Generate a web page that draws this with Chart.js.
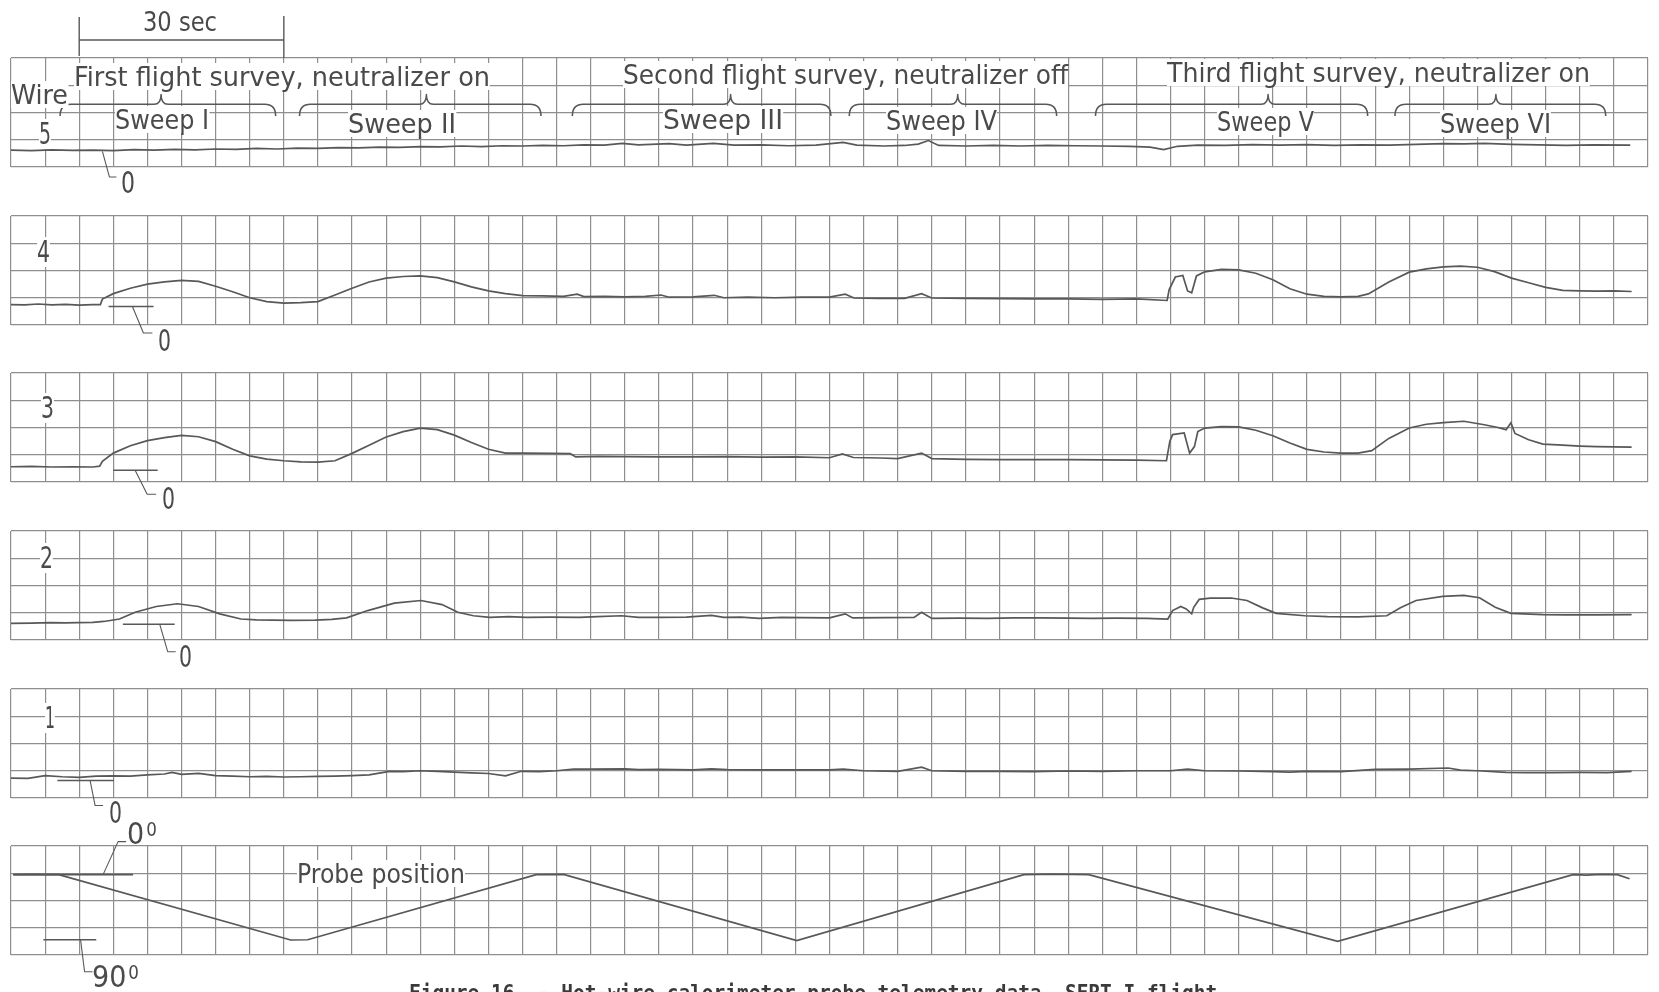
<!DOCTYPE html>
<html>
<head>
<meta charset="utf-8">
<title>Hot-wire calorimeter probe telemetry data, SERT I flight</title>
<script src="https://cdn.jsdelivr.net/npm/chart.js@4.4.1/dist/chart.umd.min.js"></script>
<style>
  html, body { margin: 0; padding: 0; background: #fff; width: 1659px; height: 992px; overflow: hidden; }
  body { position: relative; }
  .panel { position: absolute; left: 0; width: 1659px; }
  .panel canvas { display: block; }
  .lbl {
    position: absolute; white-space: nowrap; line-height: 1; color: #4a4a4a;
    font-family: "Liberation Sans Narrow", "DejaVu Sans Condensed", "DejaVu Sans", sans-serif;
    transform-origin: 0 50%; z-index: 5;
  }
  .lbl.bg { background: #fff; }
  .lbl .sup { font-size: 0.62em; position: relative; top: -0.45em; margin-left: 2px; }
  .caption { font-family: "DejaVu Sans Mono", monospace; font-weight: bold; color: #3a3a3a; }
</style>
</head>
<body>
<script>
// ---- recorded traces: [time in seconds, chart divisions above the bottom grid line] ----
const wire5 = [[0,0.62],[3,0.60],[6,0.63],[9,0.61],[12,0.62],[15,0.60],[18,0.64],[21,0.62],[24,0.65],[27,0.63],
  [30,0.66],[33,0.65],[36,0.68],[39,0.66],[42,0.69],[45,0.68],[48,0.71],[51,0.70],[54,0.73],[57,0.72],
  [60,0.75],[63,0.74],[66,0.77],[69,0.75],[72,0.78],[75,0.77],[78,0.79],[81,0.78],[84,0.81],[87,0.80],
  [89.6,0.87],[92,0.81],[96.5,0.86],[99,0.80],[103,0.87],[106,0.80],[110,0.81],[114,0.78],[118,0.80],[122,0.90],
  [124,0.80],[128,0.77],[131,0.79],[133,0.84],[134.5,0.97],[136,0.79],[140,0.77],[144,0.79],[148,0.77],[152,0.79],
  [156,0.78],[160,0.77],[164,0.76],[167,0.73],[169,0.64],[171,0.76],[174,0.80],[178,0.79],[182,0.82],[186,0.80],
  [190,0.82],[194,0.79],[198,0.81],[202,0.80],[206,0.83],[210,0.86],[213,0.85],[216,0.87],[220,0.83],[224,0.81],
  [228,0.79],[232,0.81],[237.4,0.80]];

const wire4 = [[0,0.75],[2,0.74],[4,0.77],[6,0.74],[8,0.76],[10,0.73],[12,0.75],[13.1,0.75],[13.4,0.95],[15,1.15],
  [17.5,1.35],[20,1.5],[22.5,1.58],[25,1.64],[27.5,1.6],[30,1.42],[32.5,1.22],[35,1.0],[37.5,0.86],[40,0.8],
  [42.5,0.82],[45,0.86],[47.5,1.1],[50,1.35],[52.5,1.58],[55,1.72],[57.5,1.78],[60,1.8],[62.5,1.74],[65,1.58],
  [67.5,1.4],[70,1.25],[72.5,1.15],[75,1.08],[78,1.07],[81,1.05],[83,1.13],[84,1.04],[87,1.05],[90,1.03],
  [93,1.05],[95.3,1.1],[96.5,1.02],[100,1.03],[103.1,1.09],[104.5,1.0],[108,1.02],[112,1.0],[116,1.02],[120,1.02],
  [122.3,1.13],[123.6,0.99],[127,0.98],[131,0.98],[133.5,1.15],[135,0.99],[140,0.98],[145,0.97],[150,0.96],[155,0.96],
  [160,0.94],[165,0.96],[169.5,0.9],[169.8,1.3],[170.7,1.76],[171.8,1.82],[172.5,1.25],[173.1,1.18],[173.8,1.8],[175,1.95],
  [177.5,2.04],[180,2.02],[182.5,1.9],[185,1.66],[187.5,1.33],[190,1.13],[192.5,1.05],[195,1.03],[197.5,1.05],[199,1.14],
  [202,1.58],[205,1.94],[207.5,2.06],[210,2.13],[212.5,2.16],[215,2.12],[217.5,1.96],[220,1.72],[222.5,1.55],[225,1.38],
  [227.5,1.27],[230,1.25],[232.5,1.24],[235,1.25],[237.6,1.23]];

const wire3 = [[0,0.56],[3,0.57],[6,0.55],[9,0.56],[12,0.55],[13,0.58],[13.4,0.76],[15,1.06],[17.5,1.33],[20,1.52],
  [22.5,1.63],[25,1.71],[27.5,1.66],[30,1.48],[32.5,1.2],[35,0.96],[37.5,0.84],[40,0.78],[42.5,0.74],[45,0.73],
  [47.5,0.78],[50,1.05],[52.5,1.35],[55,1.65],[57.5,1.85],[60,1.98],[62.5,1.92],[65,1.72],[67.5,1.45],[70,1.2],
  [72.5,1.06],[75,1.06],[79,1.05],[82,1.04],[82.8,0.92],[86,0.94],[90,0.93],[95,0.92],[100,0.92],[105,0.93],
  [110,0.91],[115,0.92],[120,0.89],[121.9,1.03],[123.5,0.9],[127.5,0.88],[130,0.86],[133.5,1.06],[135,0.86],[140,0.83],
  [145,0.82],[150,0.82],[155,0.82],[160,0.81],[165,0.8],[169.4,0.78],[169.9,1.5],[170.3,1.74],[172,1.8],[172.8,1.06],
  [173.5,1.3],[174,1.85],[175,1.98],[177.5,2.03],[180,2.02],[182.5,1.9],[185,1.7],[187.5,1.43],[190,1.2],[192.5,1.1],
  [195,1.06],[197.5,1.06],[199.5,1.15],[202,1.6],[205,1.98],[207.5,2.12],[210,2.18],[213,2.23],[216,2.1],[218,2.0],
  [219.2,1.92],[219.9,2.17],[220.5,1.78],[222.5,1.55],[224.6,1.39],[227.5,1.35],[230,1.32],[232.5,1.3],[235,1.29],[237.6,1.28]];

const wire2 = [[0,0.61],[3,0.62],[5.8,0.64],[8,0.63],[9.7,0.64],[12,0.65],[13.6,0.68],[15.9,0.77],[18.2,1.02],[21.3,1.23],
  [24.4,1.33],[27.5,1.23],[30.6,0.96],[33.7,0.77],[36,0.74],[38.4,0.73],[41,0.72],[44.6,0.73],[47,0.76],[49.2,0.81],
  [52.3,1.08],[56.2,1.35],[60.1,1.45],[63.2,1.3],[65.5,1.02],[67.8,0.89],[70.2,0.83],[73,0.86],[75.6,0.83],[79,0.84],
  [83.3,0.83],[86,0.86],[89.5,0.89],[92,0.83],[95,0.83],[99,0.84],[102.7,0.9],[104.5,0.83],[107,0.84],[109.7,0.79],
  [113,0.83],[116,0.82],[120,0.81],[122.3,0.96],[123.4,0.81],[128,0.82],[132.4,0.83],[133.5,1.02],[135,0.79],[139,0.8],
  [143.2,0.79],[147,0.81],[151,0.81],[155,0.8],[158.7,0.79],[162,0.8],[166.5,0.79],[169.6,0.77],[170.3,1.08],[171.5,1.23],
  [172.3,1.14],[173.1,0.96],[173.4,1.2],[174.2,1.49],[175.8,1.54],[178.9,1.54],[181.2,1.45],[183.5,1.18],[185.5,0.98],[189.7,0.89],
  [193,0.86],[197.5,0.85],[201.7,0.89],[203.7,1.18],[206,1.45],[209.9,1.6],[213,1.64],[215.3,1.55],[217.6,1.2],[219.9,0.98],
  [224.6,0.93],[228,0.92],[232.4,0.92],[237.6,0.93]];

const wire1 = [[0,0.73],[2.5,0.72],[5,0.82],[7.5,0.78],[10,0.76],[12.5,0.8],[15,0.81],[17.5,0.8],[20,0.85],[22.5,0.88],
  [23.6,0.94],[25,0.87],[27.5,0.9],[30,0.82],[32.5,0.8],[35,0.78],[37.5,0.79],[40,0.77],[42.5,0.78],[45,0.79],
  [47.5,0.8],[50,0.82],[52.5,0.85],[55.5,0.98],[57.5,0.97],[60,1.0],[62.5,0.98],[65,0.95],[67.5,0.92],[70,0.9],
  [72.5,0.81],[74.8,0.98],[77.5,0.97],[80,1.0],[82.5,1.06],[85,1.06],[90,1.07],[92,1.04],[95,1.05],[100,1.03],
  [102.7,1.07],[105,1.04],[110,1.03],[115,1.03],[120,1.03],[122,1.06],[125,1.0],[130,0.98],[133.5,1.13],[135,1.0],
  [140,0.98],[145,0.98],[150,0.97],[155,0.99],[160,0.98],[165,1.0],[170,1.0],[172.5,1.06],[175,1.0],[180,0.99],
  [185,0.97],[187.5,0.95],[190,0.98],[195,0.97],[200,1.05],[205,1.06],[210.7,1.1],[212.5,1.02],[215,1.0],[219.2,0.94],
  [222,0.93],[226,0.93],[230,0.94],[234,0.93],[237.6,0.98]];

const probePosition = [[0.3,2.95],[3,2.96],[7,2.95],[41,0.55],[43.5,0.56],[77,2.95],[81,2.96],[115.2,0.53],
  [148.5,2.95],[153,2.97],[158,2.95],[194.5,0.5],[229,2.95],[231,2.93],[233,2.96],[235.5,2.95],[237.3,2.8]];

// ---- zero reference lines: [from s, to s, level] ----
const wire4Zero = [14.3, 20.9, 0.68];
const wire3Zero = [15, 21.5, 0.43];
const wire2Zero = [16.4, 24, 0.58];
const wire1Zero = [6.8, 15.1, 0.64];
const probeZeroDeg = [0.35, 17.9, 2.95];
const probeNinetyDeg = [4.75, 12.5, 0.56];

// ---- annotations ----
const surveyTitles = ['First flight survey, neutralizer on', 'Second flight survey, neutralizer off', 'Third flight survey, neutralizer on'];
const sweepNames = ['Sweep I', 'Sweep II', 'Sweep III', 'Sweep IV', 'Sweep V', 'Sweep VI'];
const sweepStart = [7.2, 42.3, 82.3, 122.9, 159.0, 202.9];
const sweepEnd   = [38.8, 77.7, 120.2, 153.3, 198.9, 233.8];
const sweepMid   = [22.0, 60.9, 105.5, 138.8, 184.3, 217.7];
const wireNames = ['5', '4', '3', '2', '1'];
const scaleBarSeconds = [10, 40];

const INK = '#585858';
const GRID = '#8e8e8e';
const PLOT_LEFT = 11, PLOT_RIGHT_GAP = 11, PANEL_H = 109;

function marksPlugin(p) {
  return {
    id: 'marks',
    afterDatasetsDraw(chart) {
      const { ctx, chartArea: a, scales: { x, y } } = chart;
      const px = t => x.getPixelForValue(t), py = v => y.getPixelForValue(v);
      ctx.save();
      ctx.strokeStyle = INK;
      ctx.lineCap = 'butt';
      ctx.lineJoin = 'round';
      (p.markers || []).forEach(m => {
        ctx.lineWidth = 1.6;
        ctx.beginPath();
        ctx.moveTo(px(m[0]), py(m[2]));
        ctx.lineTo(px(m[1]), py(m[2]));
        ctx.stroke();
      });
      (p.leaders || []).forEach(l => {
        const sx = px(l.t), sy = py(l.v);
        ctx.lineWidth = 1.1;
        ctx.setLineDash(l.dash || []);
        ctx.beginPath();
        ctx.moveTo(sx, sy);
        ctx.lineTo(sx + l.c[0], sy + l.c[1]);
        ctx.setLineDash([]);
        ctx.lineTo(sx + l.e[0], sy + l.e[1]);
        ctx.stroke();
      });
      if (p.braces) {
        ctx.lineWidth = 1.5;
        const yh = py(2.3), ye = py(1.87), yp = py(2.66);
        for (let i = 0; i < sweepStart.length; i++) {
          const xs = px(sweepStart[i]), xe = px(sweepEnd[i]), xm = px(sweepMid[i]);
          ctx.beginPath();
          ctx.moveTo(xs, ye);
          ctx.quadraticCurveTo(xs, yh, xs + 11, yh);
          ctx.lineTo(xm - 7, yh);
          ctx.quadraticCurveTo(xm, yh, xm, yp);
          ctx.quadraticCurveTo(xm, yh, xm + 7, yh);
          ctx.lineTo(xe - 11, yh);
          ctx.quadraticCurveTo(xe, yh, xe, ye);
          ctx.stroke();
        }
      }
      if (p.scaleBar) {
        const x0 = px(scaleBarSeconds[0]), x1 = px(scaleBarSeconds[1]);
        ctx.lineWidth = 1.4;
        ctx.beginPath();
        ctx.moveTo(x0, a.top - 41); ctx.lineTo(x0, a.top - 2);
        ctx.moveTo(x1, a.top - 42); ctx.lineTo(x1, a.top);
        ctx.moveTo(x0, a.top - 18); ctx.lineTo(x1, a.top - 18);
        ctx.stroke();
      }
      ctx.restore();
    }
  };
}

const panels = [
  { series: wire5, top: 58, padTop: 58, padBottom: 45, braces: true, scaleBar: true,
    leaders: [{ t: 13.4, v: 0.57, c: [7, 25.5], e: [14, 25.5] }] },
  { series: wire4, top: 216, padTop: 10, padBottom: 45, markers: [wire4Zero],
    leaders: [{ t: 17.8, v: wire4Zero[2], c: [11, 26.5], e: [20, 26.5] }] },
  { series: wire3, top: 373, padTop: 10, padBottom: 45, markers: [wire3Zero],
    leaders: [{ t: 18.2, v: wire3Zero[2], c: [12, 24], e: [21, 24] }] },
  { series: wire2, top: 531, padTop: 10, padBottom: 45, markers: [wire2Zero],
    leaders: [{ t: 21.8, v: wire2Zero[2], c: [8, 27.5], e: [16, 27.5] }] },
  { series: wire1, top: 689, padTop: 10, padBottom: 45, markers: [wire1Zero],
    leaders: [{ t: 11.6, v: wire1Zero[2], c: [5, 25], e: [13, 25] }] },
  { series: probePosition, top: 846, padTop: 10, padBottom: 37, markers: [probeZeroDeg, probeNinetyDeg],
    leaders: [{ t: 13.5, v: probeZeroDeg[2], c: [15, -33], e: [23, -33], dash: [7, 4] },
              { t: 10.2, v: probeNinetyDeg[2], c: [4, 32], e: [12, 32] }] }
];

panels.forEach(p => {
  const h = p.padTop + PANEL_H + p.padBottom;
  const box = document.createElement('div');
  box.className = 'panel';
  box.style.top = (p.top - p.padTop) + 'px';
  box.style.height = h + 'px';
  const cv = document.createElement('canvas');
  cv.width = 1659; cv.height = h;
  cv.style.width = '1659px'; cv.style.height = h + 'px';
  box.appendChild(cv);
  document.body.appendChild(box);

  const gridOpts = { color: GRID, lineWidth: 1.2, drawTicks: false };
  new Chart(cv, {
    type: 'line',
    data: {
      datasets: [{
        data: p.series.map(([t, v]) => ({ x: t, y: v })),
        borderColor: INK, borderWidth: 1.7, pointRadius: 0, tension: 0, fill: false
      }]
    },
    options: {
      responsive: false, animation: false, devicePixelRatio: 1,
      parsing: false, normalized: true,
      layout: { padding: { left: PLOT_LEFT, right: PLOT_RIGHT_GAP, top: p.padTop, bottom: p.padBottom } },
      plugins: { legend: { display: false }, tooltip: { enabled: false }, title: { display: false } },
      scales: {
        x: { type: 'linear', min: 0, max: 240,
             ticks: { display: false, stepSize: 5, maxTicksLimit: 100 },
             grid: gridOpts, border: { display: false } },
        y: { type: 'linear', min: 0, max: 4,
             ticks: { display: false, stepSize: 1, maxTicksLimit: 100 },
             grid: gridOpts, border: { display: false } }
      }
    },
    plugins: [marksPlugin(p)]
  });
});

// ---- text, fitted to its span on the page (or set at its natural width) ----
const SUP = '<span class="sup">0</span>';
const labels = [
  { html: '30 sec', x0: 143, x1: 217, cy: 21.5, fs: 27 },
  { html: 'Wire', x0: 11, x1: 68, cy: 94.5, fs: 27, bg: true },
  { html: surveyTitles[0], x0: 74, x1: 490, cy: 76.5, fs: 27, bg: true },
  { html: surveyTitles[1], x0: 623, x1: 1068, cy: 74, fs: 27, bg: true },
  { html: surveyTitles[2], x0: 1167, x1: 1590, cy: 72.5, fs: 27, bg: true },
  { html: sweepNames[0], x0: 115, x1: 209, cy: 119.5, fs: 27, bg: true },
  { html: sweepNames[1], x0: 348, x1: 456, cy: 123, fs: 27, bg: true },
  { html: sweepNames[2], x0: 663, x1: 783, cy: 119, fs: 27, bg: true },
  { html: sweepNames[3], x0: 886, x1: 997, cy: 120, fs: 27, bg: true },
  { html: sweepNames[4], x0: 1217, x1: 1314, cy: 121, fs: 27, bg: true },
  { html: sweepNames[5], x0: 1440, x1: 1551, cy: 123, fs: 27, bg: true },
  { html: wireNames[0], x0: 39, x1: 51, cy: 134, fs: 30, bg: true },
  { html: wireNames[1], x0: 37, x1: 50, cy: 252, fs: 30, bg: true },
  { html: wireNames[2], x0: 41, x1: 54, cy: 408, fs: 30, bg: true },
  { html: wireNames[3], x0: 40, x1: 53, cy: 558, fs: 30, bg: true },
  { html: wireNames[4], x0: 45, x1: 55, cy: 718, fs: 30, bg: true },
  { html: '0', x0: 121, x1: 135, cy: 182, fs: 31 },
  { html: '0', x0: 158, x1: 171, cy: 340, fs: 31 },
  { html: '0', x0: 162, x1: 175, cy: 498.5, fs: 31 },
  { html: '0', x0: 179, x1: 192, cy: 656, fs: 31 },
  { html: '0', x0: 109, x1: 122, cy: 812.5, fs: 31 },
  { html: '0' + SUP, x0: 127, cy: 834, fs: 30 },
  { html: '90' + SUP, x0: 92, cy: 977, fs: 30 },
  { html: 'Probe position', x0: 297, x1: 465, cy: 873, fs: 27, bg: true },
  { html: 'Figure 16. - Hot-wire calorimeter probe telemetry data, SERT I flight.', x0: 409, x1: 1229, top: 982, fs: 22, cls: 'caption' }
];

labels.forEach(l => {
  const el = document.createElement('div');
  el.className = 'lbl' + (l.bg ? ' bg' : '') + (l.cls ? ' ' + l.cls : '');
  el.style.fontSize = l.fs + 'px';
  el.innerHTML = l.html;
  document.body.appendChild(el);
  const r = el.getBoundingClientRect();
  el.style.left = l.x0 + 'px';
  el.style.top = (l.top !== undefined ? l.top : l.cy - r.height / 2) + 'px';
  if (l.x1 !== undefined) {
    el.style.transform = 'scaleX(' + ((l.x1 - l.x0) / r.width).toFixed(4) + ')';
  }
});
</script>
</body>
</html>
